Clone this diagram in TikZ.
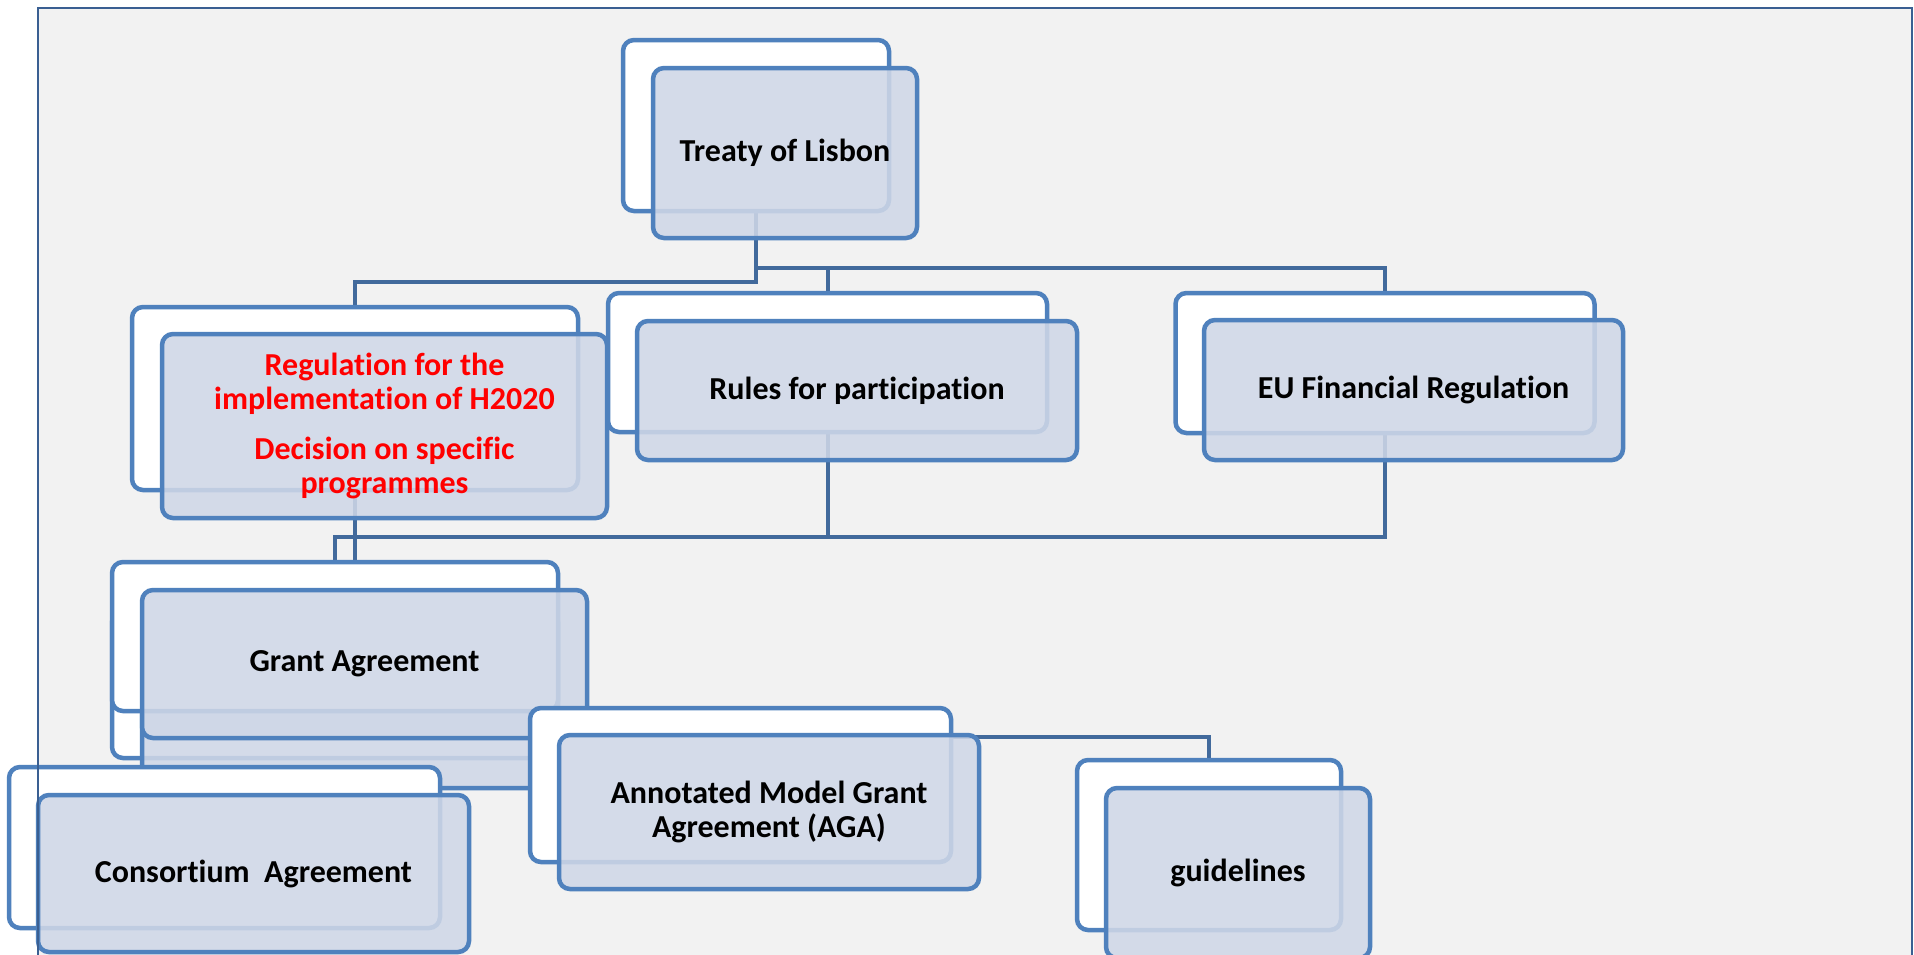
\documentclass[tikz,border=0pt]{standalone}
\usepackage{fontspec}
\setmainfont[Ligatures=NoCommon]{Carlito}
\definecolor{boxblue}{HTML}{4F81BD}
\definecolor{frontfill}{HTML}{CFD7E7}
\definecolor{connblue}{HTML}{426A9C}
\definecolor{framecol}{HTML}{3A5F92}
\definecolor{bggray}{HTML}{F2F2F2}
\definecolor{redtxt}{HTML}{FF0000}
\tikzset{
  backbox/.style={draw=boxblue, line width=4.5pt, fill=white, rounded corners=11pt, inner sep=0pt, rectangle},
  frontbox/.style={draw=boxblue, line width=4.5pt, fill=frontfill, fill opacity=0.88, draw opacity=1, rounded corners=11pt, inner sep=0pt, rectangle},
  conn/.style={draw=connblue, line width=4pt},
  lbl/.style={font=\bfseries\fontsize{32}{34.5}\selectfont, text=black, align=center, inner sep=0pt},
  redlbl/.style={lbl, text=redtxt}
}
\begin{document}
\begin{tikzpicture}[x=1pt,y=-1pt]
\useasboundingbox (0,0) rectangle (1914,954);
\fill[white] (0,0) rectangle (1914,954);
\fill[bggray] (37.5,7.6) rectangle (1912,960);

% anchor shapes for the connectors (invisible)
\path (756,125.5) node[minimum width=266pt, minimum height=171pt, inner sep=0pt] (treatyB) {};
\path (355,398.5) node[minimum width=446pt, minimum height=183pt, inner sep=0pt] (regB) {};
\path (827.5,362.5) node[minimum width=439pt, minimum height=139pt, inner sep=0pt] (rulesB) {};
\path (1385,363) node[minimum width=419pt, minimum height=140pt, inner sep=0pt] (euB) {};
\path (335,636.5) node[minimum width=446pt, minimum height=149pt, inner sep=0pt] (grantB) {};
\path (1209,845) node[minimum width=264pt, minimum height=170pt, inner sep=0pt] (guideB) {};

% connectors (below boxes)
\draw[conn] (treatyB.south) -- ++(0,71) -| (regB.north);
\draw[conn] (treatyB.south) -- ++(0,57) -| (rulesB.north);
\draw[conn] (treatyB.south) -- ++(0,57) -| (euB.north);
\draw[conn] (regB.south) -- (regB.south |- grantB.north);
\draw[conn] (rulesB.south) -- ++(0,105) -| (grantB.north);
\draw[conn] (euB.south) -- ++(0,104) -| (grantB.north);
\draw[conn] (grantB.south) -- ++(0,26) -| (guideB.north);

% Treaty of Lisbon
\node[backbox, minimum width=266pt, minimum height=171pt] (treatyBack) at (756,125.5) {};
\node[frontbox, minimum width=264pt, minimum height=170pt] (treatyFront) at (785,153) {};
\node[lbl] (treatyT) at (treatyFront.center) {Treaty of Lisbon};

% Regulation
\node[backbox, minimum width=446pt, minimum height=183pt] (regBack) at (355,398.5) {};
\node[frontbox, minimum width=445pt, minimum height=184pt] (regFront) at (384.5,426) {};
\node[redlbl] (regT) at (384.5,426) {Regulation for the\\implementation of H2020\\[15pt]Decision on specific\\programmes};

% Rules
\node[backbox, minimum width=439pt, minimum height=139pt] (rulesBack) at (827.5,362.5) {};
\node[frontbox, minimum width=440pt, minimum height=139pt] (rulesFront) at (857,390.5) {};
\node[lbl] (rulesT) at (rulesFront.center) {Rules for participation};

% EU Financial Regulation
\node[backbox, minimum width=419pt, minimum height=140pt] (euBack) at (1385,363) {};
\node[frontbox, minimum width=419pt, minimum height=140pt] (euFront) at (1413.5,390) {};
\node[lbl] (euT) at (euFront.center) {EU Financial Regulation};

% Grant Agreement (stacked)
\node[backbox, minimum width=446pt, minimum height=147pt] (grantBack2) at (335,684.5) {};
\node[frontbox, minimum width=408pt, minimum height=148pt] (grantFront2) at (346,714) {};
\node[backbox, minimum width=446pt, minimum height=149pt] (grantBack) at (335,636.5) {};
\node[frontbox, minimum width=445pt, minimum height=148pt] (grantFront) at (364.5,664) {};
\node[lbl] (grantT) at (grantFront.center) {Grant Agreement};

% AGA
\node[backbox, minimum width=421pt, minimum height=154pt] (agaBack) at (740.5,785) {};
\node[frontbox, minimum width=420pt, minimum height=154pt] (agaFront) at (769,812) {};
\node[lbl] (agaT) at (agaFront.center) {Annotated Model Grant\\Agreement (AGA)};

% guidelines
\node[backbox, minimum width=264pt, minimum height=170pt] (guideBack) at (1209,845) {};
\node[frontbox, minimum width=264pt, minimum height=170pt] (guideFront) at (1238,873) {};
\node[lbl] (guideT) at (guideFront.center) {guidelines};

% Consortium Agreement
\node[backbox, minimum width=431pt, minimum height=161pt] (consBack) at (224.5,847.5) {};
\node[frontbox, minimum width=431pt, minimum height=157pt] (consFront) at (253.5,873.5) {};
\node[lbl] (consT) at (consFront.center) {Consortium~ Agreement};

% outer frame on top
\draw[framecol, line width=2pt] (37.5,970) -- (37.5,7.6) -- (1912,7.6) -- (1912,970);
\end{tikzpicture}
\end{document}
